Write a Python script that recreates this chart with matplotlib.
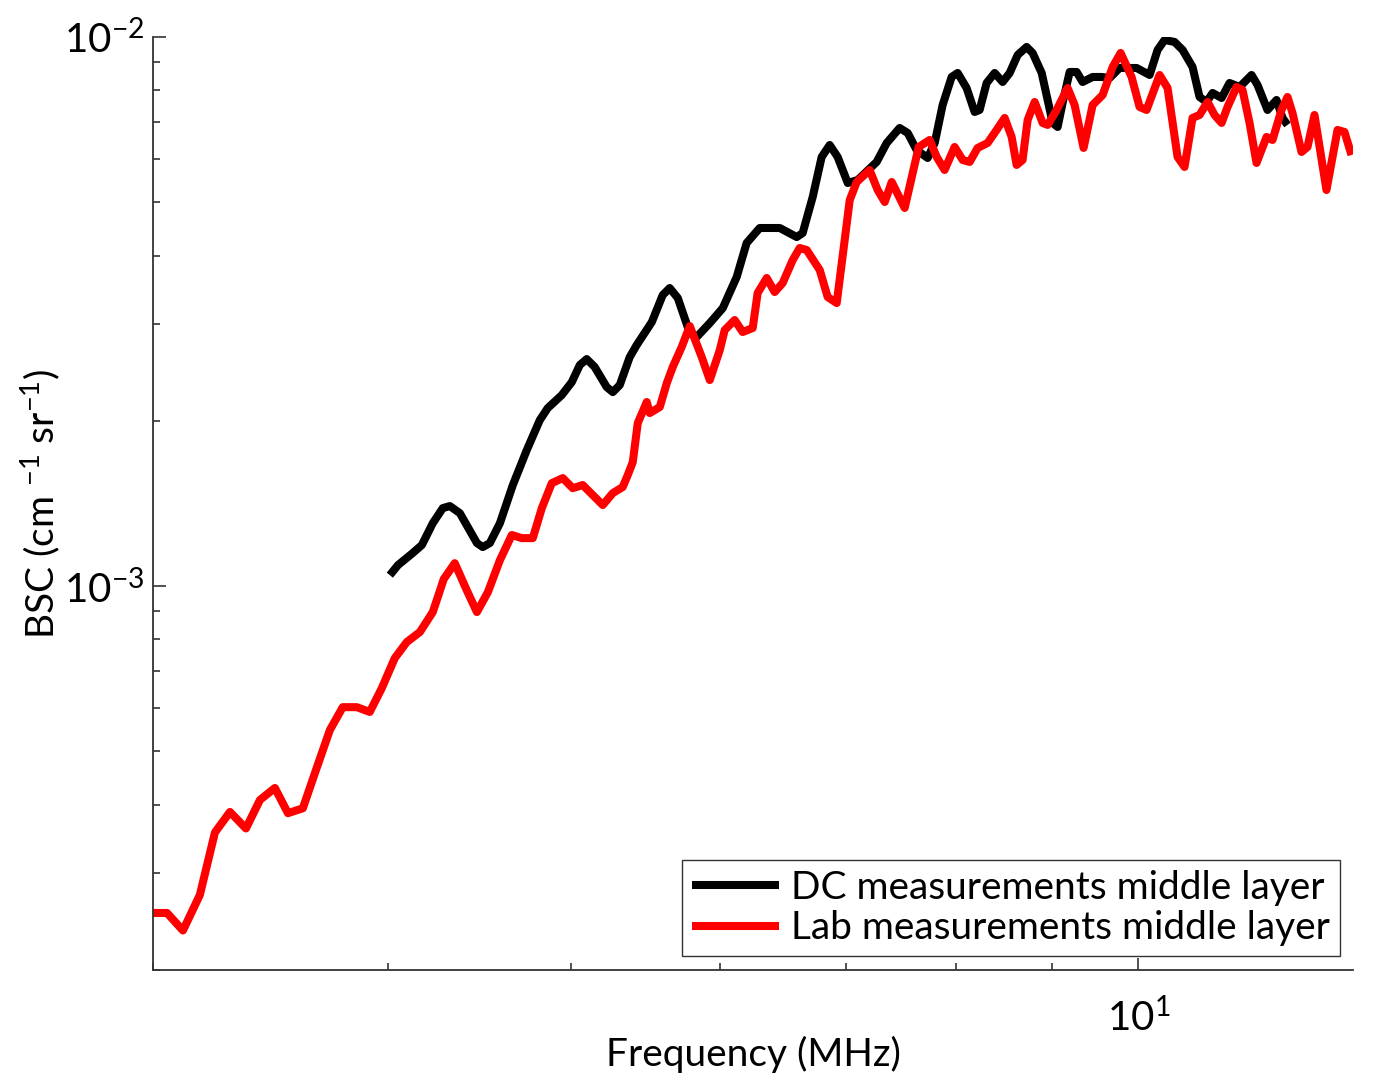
import math
import matplotlib
matplotlib.use("Agg")
import matplotlib.pyplot as plt
from matplotlib.ticker import LogLocator, FixedLocator, NullFormatter, FuncFormatter

plt.rcParams['font.family'] = ['Lato', 'DejaVu Sans']
plt.rcParams['mathtext.fontset'] = 'custom'
plt.rcParams['mathtext.rm'] = 'Lato'
plt.rcParams['mathtext.it'] = 'Lato'
plt.rcParams['mathtext.default'] = 'regular'

# DC measurements middle layer: frequency (MHz) and BSC (x1e-3 cm^-1 sr^-1)
dc_freq = [4.007, 4.047, 4.121, 4.167, 4.223, 4.275, 4.312, 4.365, 4.457, 4.489,
           4.528, 4.584, 4.657, 4.737, 4.813, 4.860, 4.944, 5.005, 5.054, 5.097,
           5.147, 5.223, 5.262, 5.307, 5.372, 5.418, 5.519, 5.593, 5.641, 5.697,
           5.781, 5.830, 5.924, 6.019, 6.122, 6.197, 6.297, 6.453, 6.588, 6.636,
           6.718, 6.792, 6.859, 6.926, 7.012, 7.098, 7.264, 7.354, 7.471, 7.545,
           7.628, 7.731, 7.798, 7.874, 7.961, 8.020, 8.108, 8.188, 8.238, 8.309,
           8.391, 8.473, 8.546, 8.630, 8.725, 8.789, 8.887, 8.952, 9.007, 9.062,
           9.117, 9.196, 9.275, 9.343, 9.458, 9.562, 9.656, 9.775, 9.980, 10.140,
           10.239, 10.327, 10.454, 10.557, 10.686, 10.778, 10.871, 10.951, 11.072, 11.180,
           11.318, 11.485, 11.569, 11.711, 11.841, 11.928, 12.001]
dc_bsc_e3 = [1.047, 1.092, 1.149, 1.188, 1.302, 1.387, 1.399, 1.358, 1.198, 1.178,
             1.198, 1.302, 1.528, 1.769, 2.006, 2.110, 2.228, 2.353, 2.527, 2.591,
             2.506, 2.304, 2.256, 2.324, 2.613, 2.748, 3.026, 3.389, 3.490, 3.347,
             2.890, 2.842, 3.013, 3.209, 3.655, 4.215, 4.489, 4.489, 4.322, 4.395,
             5.112, 6.046, 6.358, 6.046, 5.421, 5.490, 5.921, 6.412, 6.828, 6.686,
             6.226, 6.021, 6.412, 7.519, 8.456, 8.599, 8.074, 7.302, 7.363, 8.246,
             8.599, 8.280, 8.599, 9.273, 9.590, 9.351, 8.599, 7.678, 6.973, 6.857,
             7.582, 8.635, 8.635, 8.280, 8.456, 8.456, 8.420, 8.781, 8.781, 8.527,
             9.470, 9.875, 9.793, 9.470, 8.818, 7.776, 7.614, 7.907, 7.743, 8.246,
             8.108, 8.527, 8.177, 7.363, 7.678, 7.121, 6.915]

# Lab measurements middle layer
lab_freq = [3.000, 3.052, 3.112, 3.177, 3.236, 3.296, 3.361, 3.419, 3.482, 3.538,
            3.603, 3.656, 3.724, 3.783, 3.849, 3.910, 3.968, 4.031, 4.091, 4.157,
            4.223, 4.280, 4.338, 4.402, 4.457, 4.517, 4.584, 4.651, 4.708, 4.772,
            4.825, 4.884, 4.950, 5.011, 5.072, 5.135, 5.198, 5.262, 5.326, 5.359,
            5.392, 5.425, 5.485, 5.505, 5.573, 5.621, 5.662, 5.724, 5.781, 5.866,
            5.924, 5.997, 6.033, 6.107, 6.167, 6.243, 6.281, 6.351, 6.413, 6.476,
            6.556, 6.612, 6.669, 6.776, 6.842, 6.918, 7.029, 7.089, 7.202, 7.273,
            7.336, 7.399, 7.517, 7.647, 7.750, 7.817, 7.893, 7.990, 8.069, 8.138,
            8.218, 8.319, 8.411, 8.494, 8.567, 8.619, 8.682, 8.736, 8.811, 8.897,
            8.952, 9.051, 9.173, 9.252, 9.354, 9.458, 9.574, 9.692, 9.787, 9.919,
            10.016, 10.102, 10.264, 10.365, 10.492, 10.582, 10.686, 10.778, 10.884, 10.977,
            11.072, 11.153, 11.276, 11.359, 11.457, 11.555, 11.697, 11.783, 11.913, 12.001,
            12.074, 12.208, 12.298, 12.403, 12.586, 12.757, 12.866, 12.977]
lab_bsc_e3 = [0.254, 0.254, 0.236, 0.274, 0.356, 0.388, 0.362, 0.408, 0.429, 0.386,
              0.394, 0.456, 0.547, 0.602, 0.602, 0.590, 0.652, 0.739, 0.791, 0.825,
              0.897, 1.030, 1.101, 0.983, 0.897, 0.975, 1.115, 1.239, 1.223, 1.223,
              1.387, 1.540, 1.573, 1.508, 1.528, 1.465, 1.405, 1.477, 1.515, 1.593,
              1.682, 1.981, 2.164, 2.066, 2.119, 2.343, 2.506, 2.725, 2.976, 2.613,
              2.373, 2.691, 2.926, 3.052, 2.902, 2.951, 3.418, 3.640, 3.432, 3.564,
              3.925, 4.128, 4.093, 3.764, 3.361, 3.277, 5.048, 5.444, 5.725, 5.264,
              5.006, 5.444, 4.882, 6.305, 6.493, 6.046, 5.725, 6.305, 5.970, 5.921,
              6.279, 6.412, 6.771, 7.121, 6.575, 5.847, 5.970, 7.061, 7.614, 6.973,
              6.915, 7.363, 8.074, 7.519, 6.279, 7.519, 7.841, 8.818, 9.351, 8.456,
              7.457, 7.363, 8.527, 8.074, 6.046, 5.798, 7.121, 7.211, 7.614, 7.211,
              6.973, 7.457, 8.108, 8.007, 6.973, 5.896, 6.575, 6.493, 7.363, 7.776,
              7.271, 6.174, 6.305, 7.211, 5.264, 6.771, 6.715, 6.096]

series_labels = ['DC measurements middle layer', 'Lab measurements middle layer']
x_label = 'Frequency (MHz)'
y_label = r'BSC (cm $^{-1}$ sr$^{-1}$)'

fig = plt.figure(figsize=(13.73, 10.81), dpi=100)
ax = fig.add_axes([0.1114, 0.1027, 0.874, 0.8631])

ax.plot(dc_freq, [v * 1e-3 for v in dc_bsc_e3], color='black', lw=5.8,
        label=series_labels[0], solid_joinstyle='round', solid_capstyle='butt')
ax.plot(lab_freq, [v * 1e-3 for v in lab_bsc_e3], color='red', lw=5.8,
        label=series_labels[1], solid_joinstyle='round', solid_capstyle='butt')

ax.set_xscale('log')
ax.set_yscale('log')
ax.set_xlim(3, 13)
ax.set_ylim(2e-4, 1e-2)

ax.xaxis.set_major_locator(FixedLocator([10]))
ax.xaxis.set_minor_locator(LogLocator(base=10, subs=range(2, 10)))
ax.xaxis.set_minor_formatter(NullFormatter())
ax.yaxis.set_major_locator(LogLocator(base=10))
ax.yaxis.set_minor_locator(LogLocator(base=10, subs=range(2, 10)))
ax.yaxis.set_minor_formatter(NullFormatter())

def logfmt(v, pos):
    e = int(round(math.log10(v)))
    return r'$10^{%s}$' % (str(e).replace('-', '\u2212'))
ax.xaxis.set_major_formatter(FuncFormatter(logfmt))
ax.yaxis.set_major_formatter(FuncFormatter(logfmt))

for s in ['top', 'right']:
    ax.spines[s].set_visible(False)
for s in ['left', 'bottom']:
    ax.spines[s].set_linewidth(1.3)
    ax.spines[s].set_color('#333333')

ax.tick_params(which='both', direction='in', colors='#333333', width=1.2,
               labelsize=29, labelcolor='black')
ax.tick_params(which='major', length=9)
ax.tick_params(which='minor', length=5)
ax.tick_params(axis='y', which='major', pad=6)
ax.tick_params(axis='x', which='major', pad=20)

ax.set_xlabel(x_label, fontsize=28)
ax.set_ylabel(y_label, fontsize=28)
ax.xaxis.set_label_coords(0.5, -0.091)
ax.yaxis.set_label_coords(-0.094, 0.5)
ax.xaxis.label.set_va('center')
ax.yaxis.label.set_va('center')

leg = ax.legend(loc='lower right', bbox_to_anchor=(0.989, 0.015), borderaxespad=0,
                fontsize=28, frameon=True, fancybox=False, handlelength=2.25,
                handletextpad=0.3, borderpad=0.25, labelspacing=0.12)
leg.get_frame().set_edgecolor('black')
leg.get_frame().set_linewidth(1.0)

fig.savefig('out.png', dpi=100)
